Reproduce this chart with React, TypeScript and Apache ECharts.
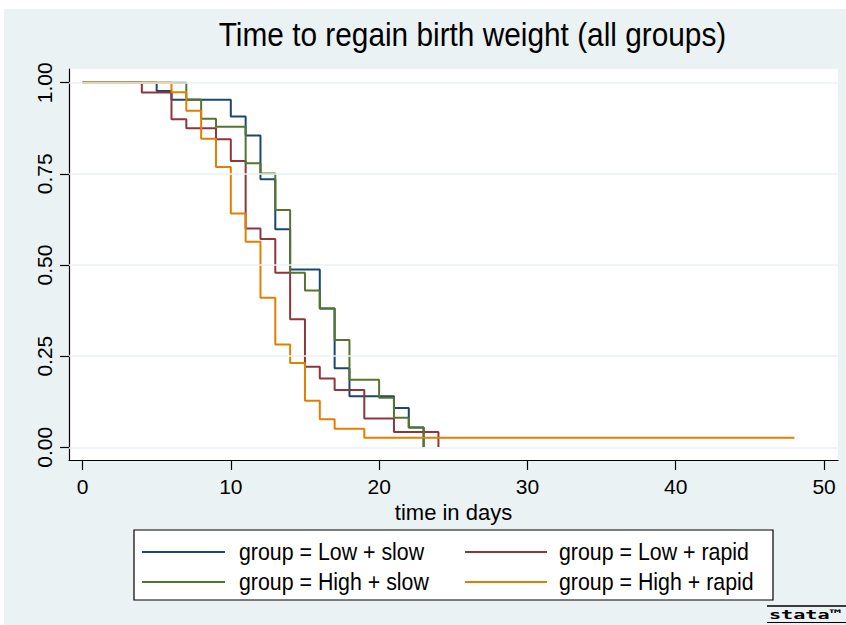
import React, { useEffect, useRef } from "react";
import * as echarts from "echarts";

const seriesNames = [
  "group = Low + slow",
  "group = Low + rapid",
  "group = High + slow",
  "group = High + rapid",
];
const seriesColors = ["#1A476F", "#90353B", "#55752F", "#E37E00"];

const lowSlowTimes = [0, 5, 6, 10, 11, 12, 13, 14, 16, 17, 18, 21, 22, 23];
const lowSlowSurv = [1, 0.977, 0.953, 0.907, 0.855, 0.735, 0.598, 0.488, 0.381, 0.217, 0.14, 0.108, 0.054, 0];

const lowRapidTimes = [0, 4, 6, 7, 9, 10, 11, 12, 13, 14, 15, 16, 17, 19, 21, 24];
const lowRapidSurv = [1, 0.973, 0.9, 0.875, 0.845, 0.785, 0.6, 0.571, 0.479, 0.351, 0.221, 0.189, 0.157, 0.079, 0.042, 0];

const highSlowTimes = [0, 7, 8, 9, 11, 12, 13, 14, 15, 16, 17, 18, 20, 21, 22, 23];
const highSlowSurv = [1, 0.954, 0.901, 0.879, 0.779, 0.751, 0.651, 0.479, 0.43, 0.381, 0.294, 0.185, 0.136, 0.081, 0.054, 0];

const highRapidTimes = [0, 6, 7, 8, 9, 10, 11, 12, 13, 14, 15, 16, 17, 19, 48];
const highRapidSurv = [1, 0.974, 0.923, 0.846, 0.769, 0.641, 0.564, 0.41, 0.282, 0.231, 0.128, 0.077, 0.051, 0.026, 0.026];

const xTicks = [0, 10, 20, 30, 40, 50];
const yTicks = [0, 0.25, 0.5, 0.75, 1];

const titleText = "Time to regain birth weight (all groups)";
const xAxisTitle = "time in days";

const FONT = "'Liberation Sans', Arial, sans-serif";

export default function App() {
  const ref = useRef<HTMLDivElement>(null);

  useEffect(() => {
    if (!ref.current) return;
    const chart = echarts.init(ref.current, undefined, { renderer: "svg" });

    const timesList = [lowSlowTimes, lowRapidTimes, highSlowTimes, highRapidTimes];
    const survList = [lowSlowSurv, lowRapidSurv, highSlowSurv, highRapidSurv];

    const kmSeries = seriesNames.map((name, i) => ({
      name,
      type: "line",
      step: "end",
      symbol: "none",
      showSymbol: false,
      z: 3,
      data: timesList[i].map((t, j) => [t, survList[i][j]]),
      lineStyle: { color: seriesColors[i], width: 2 },
      itemStyle: { color: seriesColors[i] },
    }));

    const legendX1 = [142, 465];
    const legendX2 = [225, 547];
    const legendTextX = [239, 559];
    const legendY = [552, 582];

    const legendGraphics: any[] = [
      {
        type: "rect",
        shape: { x: 134, y: 530, width: 639, height: 70 },
        style: { fill: "#ffffff", stroke: "#000000", lineWidth: 1.2 },
        z: 5,
      },
    ];
    seriesNames.forEach((name, i) => {
      const col = i % 2;
      const row = Math.floor(i / 2);
      legendGraphics.push({
        type: "line",
        shape: { x1: legendX1[col], y1: legendY[row], x2: legendX2[col], y2: legendY[row] },
        style: { stroke: seriesColors[i], lineWidth: 2 },
        z: 6,
      });
      legendGraphics.push({
        type: "text",
        x: legendTextX[col],
        y: legendY[row],
        scaleX: 0.89,
        style: {
          text: name,
          fontFamily: FONT,
          fontSize: 24,
          fill: "#000000",
          align: "left",
          verticalAlign: "middle",
        },
        z: 6,
      });
    });

    chart.setOption({
      animation: false,
      backgroundColor: "#ffffff",
      graphic: [
        {
          type: "rect",
          shape: { x: 4, y: 9, width: 842, height: 616 },
          style: { fill: "#EAF2F3" },
          z: -10,
          silent: true,
        },
        {
          type: "text",
          x: 472.5,
          y: 34,
          scaleX: 0.877,
          style: {
            text: titleText,
            fontFamily: FONT,
            fontSize: 34,
            fill: "#000000",
            align: "center",
            verticalAlign: "middle",
          },
        },
        ...legendGraphics,
        {
          type: "line",
          shape: { x1: 767, y1: 606, x2: 846, y2: 606 },
          style: { stroke: "#000000", lineWidth: 1.5 },
        },
        {
          type: "text",
          x: 769,
          y: 614.5,
          scaleX: 1.55,
          style: {
            text: "stata™",
            fontFamily: "'DejaVu Sans Mono', monospace",
            fontSize: 13,
            fontWeight: "bold",
            fill: "#000000",
            align: "left",
            verticalAlign: "middle",
          },
        },
        {
          type: "line",
          shape: { x1: 767, y1: 622.5, x2: 846, y2: 622.5 },
          style: { stroke: "#000000", lineWidth: 1 },
        },
      ],
      grid: {
        left: 69,
        right: 8,
        top: 69,
        bottom: 165,
        show: true,
        backgroundColor: "#ffffff",
        borderWidth: 0,
        containLabel: false,
      },
      xAxis: {
        type: "value",
        min: -0.91,
        max: 50.94,
        name: xAxisTitle,
        nameLocation: "middle",
        nameGap: 36,
        nameTextStyle: { fontFamily: FONT, fontSize: 22, color: "#000000" },
        axisLine: { show: true, onZero: false, lineStyle: { color: "#000000", width: 1.2 } },
        axisTick: { show: true, length: 10, customValues: xTicks, lineStyle: { color: "#000000", width: 1.2 } },
        axisLabel: {
          customValues: xTicks,
          fontFamily: FONT,
          fontSize: 21,
          color: "#000000",
          margin: 16,
        },
        splitLine: { show: false },
      },
      yAxis: {
        type: "value",
        min: -0.0348,
        max: 1.0376,
        axisLine: { show: true, onZero: false, lineStyle: { color: "#000000", width: 1.2 } },
        axisTick: { show: true, length: 9, customValues: yTicks, lineStyle: { color: "#000000", width: 1.2 } },
        axisLabel: {
          customValues: yTicks,
          rotate: 90,
          fontFamily: FONT,
          fontSize: 21,
          color: "#000000",
          margin: 14,
          formatter: (v: number) => v.toFixed(2),
        },
        splitLine: { show: false },
      },
      series: [
        {
          name: "grid",
          type: "line",
          data: [],
          silent: true,
          z: 1,
          markLine: {
            silent: true,
            symbol: ["none", "none"],
            label: { show: false },
            lineStyle: { color: "#EAF2F3", width: 1.5, type: "solid" },
            data: yTicks.map((v) => ({ yAxis: v })),
          },
        },
        ...kmSeries,
      ],
    });

    return () => {
      chart.dispose();
    };
  }, []);

  return (
    <div
      ref={ref}
      style={{ position: "fixed", left: 0, top: 0, width: 846, height: 625 }}
    />
  );
}
